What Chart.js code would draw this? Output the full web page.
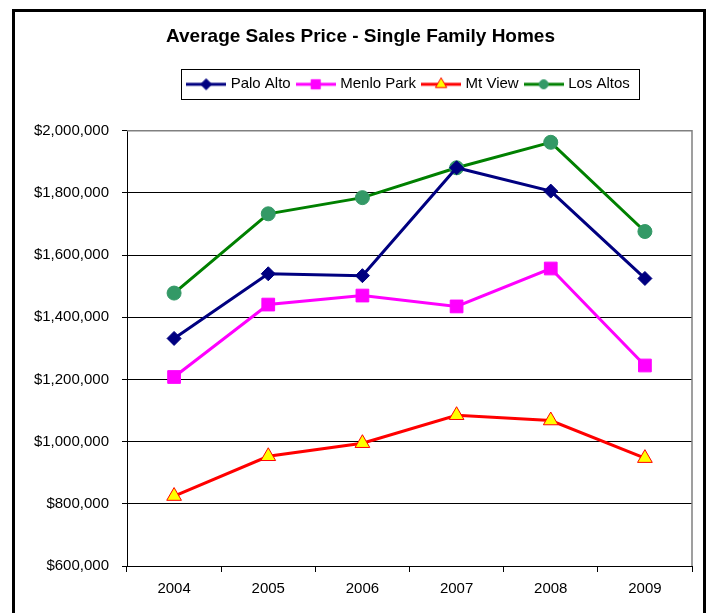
<!DOCTYPE html>
<html>
<head>
<meta charset="utf-8">
<script src="https://cdn.jsdelivr.net/npm/chart.js@4/dist/chart.umd.min.js"></script>
<style>
  html, body { margin: 0; padding: 0; background: #fff; }
  #wrap { width: 709px; height: 613px; position: relative; }
</style>
</head>
<body>
<div id="wrap"><canvas id="salesChart" width="709" height="613"></canvas></div>
<script>
// data
const years = ['2004', '2005', '2006', '2007', '2008', '2009'];
const paloAlto  = [1332000, 1540000, 1534000, 1881000, 1806000, 1525000];
const menloPark = [1208000, 1441000, 1470000, 1435000, 1557000, 1245000];
const mtView    = [825000, 953000, 995000, 1085000, 1068000, 947000];
const losAltos  = [1478000, 1733000, 1785000, 1881000, 1963000, 1676000];
const yTicks = [600000, 800000, 1000000, 1200000, 1400000, 1600000, 1800000, 2000000];

const FONT = "'Liberation Sans', Arial, sans-serif";

// little line+marker pictures for the legend, Excel style
function legendSwatch(color, style, radius, fill, border) {
    const c = document.createElement('canvas');
    c.width = 40;
    c.height = 16;
    const g = c.getContext('2d');
    g.strokeStyle = color;
    g.lineWidth = 3;
    g.beginPath();
    g.moveTo(0, 8);
    g.lineTo(40, 8);
    g.stroke();
    g.fillStyle = fill;
    g.strokeStyle = border;
    g.lineWidth = 1;
    if (Chart.helpers && Chart.helpers.drawPoint) {
        Chart.helpers.drawPoint(g, { pointStyle: style, radius: radius, borderWidth: 1, rotation: 0 }, 20, 8);
    }
    return c;
}

const series = [
    { label: 'Palo Alto', data: paloAlto, color: '#000080', style: 'rectRot', r: 7, fill: '#000080', border: '#000080', lr: 5.5 },
    { label: 'Menlo Park', data: menloPark, color: '#ff00ff', style: 'rect', r: 9, fill: '#ff00ff', border: '#ff00ff', lr: 6.5 },
    { label: 'Mt View', data: mtView, color: '#ff0000', style: 'triangle', r: 8.5, fill: '#ffff00', border: '#ff0000', lr: 6.5 },
    { label: 'Los Altos', data: losAltos, color: '#008000', style: 'circle', r: 7, fill: '#339966', border: '#339966', lr: 4.5 }
];

const framePlugin = {
    id: 'frame',
    afterInit(chart) {
        // leave extra room between the legend and the plot
        const lg = chart.legend;
        if (lg && !lg._patched) {
            const fit = lg.fit;
            lg.fit = function () {
                fit.call(this);
                this.height += 29;
            };
            lg._patched = true;
        }
    },
    beforeDraw(chart) {
        const ctx = chart.ctx;
        ctx.save();
        ctx.fillStyle = '#fff';
        ctx.fillRect(0, 0, chart.width, chart.height);
        ctx.strokeStyle = '#000';
        ctx.lineWidth = 3;
        ctx.strokeRect(13.5, 10.5, 691, 700);
        ctx.restore();
    },
    beforeDatasetsDraw(chart) {
        const { ctx, chartArea } = chart;
        ctx.save();
        ctx.strokeStyle = '#808080';
        ctx.lineWidth = 1.5;
        ctx.beginPath();
        ctx.moveTo(chartArea.left, chartArea.top);
        ctx.lineTo(chartArea.right, chartArea.top);
        ctx.lineTo(chartArea.right, chartArea.bottom);
        ctx.stroke();
        ctx.restore();
    },
    afterDraw(chart) {
        const boxes = chart.legend && chart.legend.legendHitBoxes;
        if (!boxes || !boxes.length) return;
        const left = Math.min(...boxes.map(b => b.left)) - 8;
        const right = Math.max(...boxes.map(b => b.left + b.width)) + 9;
        const top = boxes[0].top - 8;
        const bottom = boxes[0].top + boxes[0].height + 7;
        const ctx = chart.ctx;
        ctx.save();
        ctx.strokeStyle = '#000';
        ctx.lineWidth = 1;
        ctx.strokeRect(Math.round(left) + 0.5, Math.round(top) + 0.5, Math.round(right - left), Math.round(bottom - top));
        ctx.restore();
    }
};

const ctx = document.getElementById('salesChart').getContext('2d');
const salesChart = new Chart(ctx, {
    type: 'line',
    data: {
        labels: years,
        datasets: series.map(s => ({
            label: s.label,
            data: s.data,
            borderColor: s.color,
            borderWidth: 3,
            pointStyle: s.style,
            pointRadius: s.r,
            pointHoverRadius: s.r,
            pointBackgroundColor: s.fill,
            pointBorderColor: s.border,
            pointBorderWidth: 1,
            tension: 0,
            fill: false
        }))
    },
    options: {
        responsive: false,
        animation: false,
        layout: { padding: { left: 12, right: 0, top: 0, bottom: 0 } },
        plugins: {
            title: {
                display: true,
                text: 'Average Sales Price - Single Family Homes',
                color: '#000',
                font: { family: FONT, size: 19, weight: 'bold' },
                padding: { top: 25, bottom: 21 }
            },
            legend: {
                display: true,
                position: 'top',
                fullSize: false,
                labels: {
                    color: '#000',
                    font: { family: FONT, size: 15 },
                    usePointStyle: true,
                    pointStyleWidth: 34,
                    padding: 8,
                    generateLabels: function (chart) {
                        return series.map((s, i) => ({
                            text: s.label,
                            pointStyle: legendSwatch(s.color, s.style, s.lr, s.fill, s.border),
                            fillStyle: s.color,
                            strokeStyle: s.color,
                            lineWidth: 0,
                            hidden: false,
                            datasetIndex: i
                        }));
                    }
                }
            },
            tooltip: { enabled: false }
        },
        scales: {
            x: {
                offset: true,
                afterFit: scale => { scale.height = 47; },
                grid: {
                    offset: true,
                    drawOnChartArea: false,
                    drawTicks: true,
                    tickLength: 6,
                    color: '#000'
                },
                border: { display: true, color: '#000', width: 1 },
                ticks: {
                    color: '#000',
                    font: { family: FONT, size: 15 },
                    padding: 8
                }
            },
            y: {
                min: 600000,
                max: 2000000,
                afterFit: scale => { scale.width = 115; },
                afterBuildTicks: scale => { scale.ticks = yTicks.map(v => ({ value: v })); },
                grid: {
                    color: '#000',
                    lineWidth: 1,
                    drawTicks: true,
                    tickLength: 5
                },
                border: { display: true, color: '#000', width: 1 },
                ticks: {
                    color: '#000',
                    font: { family: FONT, size: 15 },
                    padding: 13,
                    callback: v => '$' + Number(v).toLocaleString('en-US')
                }
            },
            // empty axis on the right, only used to hold the plot's right margin
            yRight: {
                position: 'right',
                display: true,
                afterFit: scale => { scale.width = 17; },
                grid: { display: false },
                border: { display: false },
                ticks: { display: false }
            }
        }
    },
    plugins: [framePlugin]
});
</script>
</body>
</html>
